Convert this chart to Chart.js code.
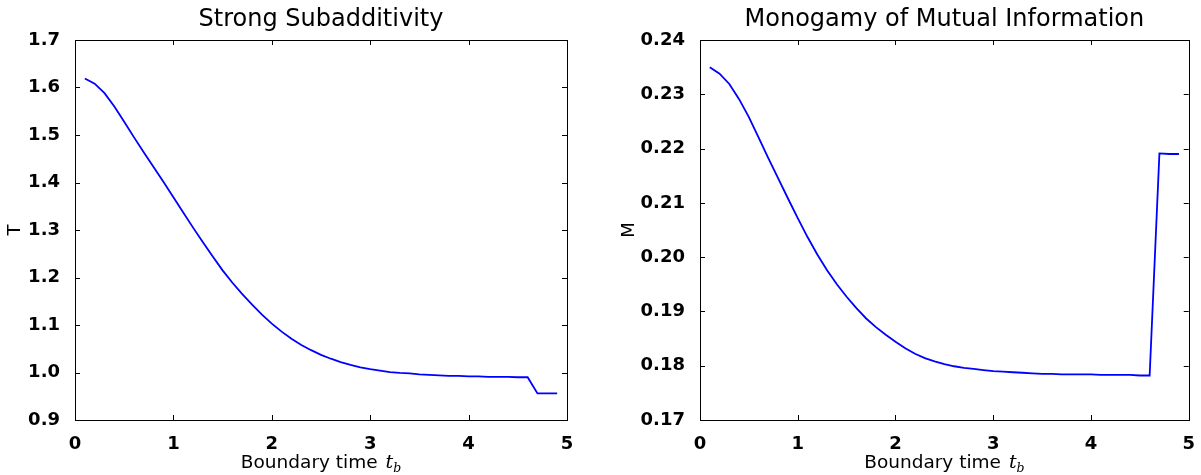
<!DOCTYPE html>
<html><head><meta charset="utf-8">
<script src="https://cdn.jsdelivr.net/npm/chart.js@4.4.1/dist/chart.umd.min.js"></script>
<style>
html,body{margin:0;padding:0;background:#fff;}
#wrap{position:relative;width:1201px;height:475px;background:#fff;}
#c1{position:absolute;left:0;top:0;}
#c2{position:absolute;left:600px;top:0;}
</style></head><body>
<div id="wrap"><canvas id="c1" width="600" height="475"></canvas><canvas id="c2" width="601" height="475"></canvas></div>
<script>
// ---- data ----
const boundaryTime = [0.1,0.2,0.3,0.4,0.5,0.6,0.7,0.8,0.9,1.0,1.1,1.2,1.3,1.4,1.5,1.6,1.7,1.8,1.9,2.0,2.1,2.2,2.3,2.4,2.5,2.6,2.7,2.8,2.9,3.0,3.1,3.2,3.3,3.4,3.5,3.6,3.7,3.8,3.9,4.0,4.1,4.2,4.3,4.4,4.5,4.6,4.7,4.8,4.9];
const ssaValues = [1.619,1.608,1.588,1.560,1.528,1.495,1.463,1.432,1.401,1.369,1.337,1.305,1.274,1.244,1.215,1.189,1.165,1.143,1.122,1.103,1.086,1.071,1.058,1.047,1.037,1.029,1.022,1.016,1.011,1.007,1.004,1.001,0.999,0.998,0.996,0.995,0.994,0.993,0.993,0.992,0.992,0.991,0.991,0.991,0.990,0.990,0.956,0.956,0.956];
const mmiValues = [0.2350,0.2338,0.2319,0.2291,0.2258,0.2220,0.2182,0.2145,0.2108,0.2072,0.2037,0.2005,0.1976,0.1950,0.1927,0.1906,0.1887,0.1871,0.1857,0.1844,0.1832,0.1822,0.1814,0.1808,0.1803,0.1799,0.1796,0.1794,0.1792,0.1790,0.1789,0.1788,0.1787,0.1786,0.1785,0.1785,0.1784,0.1784,0.1784,0.1784,0.1783,0.1783,0.1783,0.1783,0.1782,0.1782,0.2191,0.2190,0.2190];
const xTickValues = [0,1,2,3,4,5];
const ssaTickValues = [0.9,1.0,1.1,1.2,1.3,1.4,1.5,1.6,1.7];
const mmiTickValues = [0.17,0.18,0.19,0.20,0.21,0.22,0.23,0.24];
const titles = ['Strong Subadditivity','Monogamy of Mutual Information'];
const yTitles = ['T','M'];

const FONT = 'DejaVu Sans';
const TICK_LEN = 5;

const frameTicks = {
  id: 'frameTicks',
  afterDatasetsDraw(chart) {
    const {ctx, chartArea: a, scales: {x, y}} = chart;
    ctx.save();
    ctx.strokeStyle = '#000';
    ctx.lineWidth = 1;
    ctx.beginPath();
    x.ticks.forEach(t => {
      const px = Math.round(x.getPixelForValue(t.value)) + 0.5;
      ctx.moveTo(px, a.bottom); ctx.lineTo(px, a.bottom - TICK_LEN);
      ctx.moveTo(px, a.top); ctx.lineTo(px, a.top + TICK_LEN);
    });
    y.ticks.forEach(t => {
      const py = Math.round(y.getPixelForValue(t.value)) + 0.5;
      ctx.moveTo(a.left, py); ctx.lineTo(a.left + TICK_LEN, py);
      ctx.moveTo(a.right, py); ctx.lineTo(a.right - TICK_LEN, py);
    });
    ctx.stroke();
    ctx.strokeRect(Math.round(a.left) + 0.5, Math.round(a.top) + 0.5, Math.round(a.right - a.left), Math.round(a.bottom - a.top));
    ctx.restore();
  }
};

const xTitle = {
  id: 'xTitle',
  afterDraw(chart) {
    const {ctx, chartArea: a} = chart;
    const main = 'Boundary time ';
    const f1 = '18.5px "' + FONT + '"';
    const f2 = 'italic 19px "DejaVu Serif"';
    const f3 = 'italic 12.5px "DejaVu Serif"';
    ctx.save();
    ctx.fillStyle = '#000';
    ctx.textBaseline = 'alphabetic';
    ctx.textAlign = 'left';
    ctx.font = f1; const w1 = ctx.measureText(main).width + 2;
    ctx.font = f2; const w2 = ctx.measureText('t').width;
    ctx.font = f3; const w3 = ctx.measureText('b').width;
    let x = (a.left + a.right) / 2 - (w1 + w2 + w3) / 2;
    const y = 467.5;
    ctx.font = f1; ctx.fillText(main, x, y); x += w1;
    ctx.font = f2; ctx.fillText('t', x, y); x += w2;
    ctx.font = f3; ctx.fillText('b', x, y + 4);
    ctx.restore();
  }
};

function makeChart(id, values, yTicks, yMin, yMax, dec, title, yTitle, yWidth, padRight, yTitlePad) {
  return new Chart(document.getElementById(id), {
    type: 'line',
    data: {
      datasets: [{
        data: boundaryTime.map((t, i) => ({x: t, y: values[i]})),
        borderColor: '#0000ff',
        borderWidth: 1.8,
        pointRadius: 0,
        tension: 0,
        fill: false
      }]
    },
    options: {
      responsive: false,
      devicePixelRatio: 1,
      animation: false,
      layout: {padding: {left: 0, right: padRight, top: 0, bottom: 0}},
      plugins: {
        legend: {display: false},
        tooltip: {enabled: false},
        title: {
          display: true,
          fullSize: false,
          text: title,
          color: '#000',
          font: {family: FONT, size: 24, weight: 'normal'},
          padding: {top: 5.1, bottom: 6.1}
        }
      },
      scales: {
        x: {
          type: 'linear',
          min: 0, max: 5,
          grid: {display: false},
          border: {display: false},
          afterBuildTicks: s => { s.ticks = xTickValues.map(v => ({value: v})); },
          afterFit: s => { s.height = 55; },
          ticks: {
            color: '#000',
            padding: 6,
            maxRotation: 0,
            font: {family: FONT, size: 18, weight: 'bold'},
            callback: v => String(v)
          }
        },
        y: {
          type: 'linear',
          min: yMin, max: yMax,
          grid: {display: false},
          border: {display: false},
          afterBuildTicks: s => { s.ticks = yTicks.map(v => ({value: v})); },
          afterFit: s => { s.width = yWidth; },
          ticks: {
            color: '#000',
            padding: 7,
            font: {family: FONT, size: 18, weight: 'bold'},
            callback: v => Number(v).toFixed(dec)
          },
          title: {
            display: true,
            text: yTitle,
            color: '#000',
            font: {family: FONT, size: 18, weight: 'normal'},
            padding: {top: yTitlePad, bottom: 0}
          }
        }
      }
    },
    plugins: [frameTicks, xTitle]
  });
}

makeChart('c1', ssaValues, ssaTickValues, 0.9, 1.7, 1, titles[0], yTitles[0], 75, 33, 5);
makeChart('c2', mmiValues, mmiTickValues, 0.17, 0.24, 2, titles[1], yTitles[1], 100, 10, 19);
</script>
</body></html>
